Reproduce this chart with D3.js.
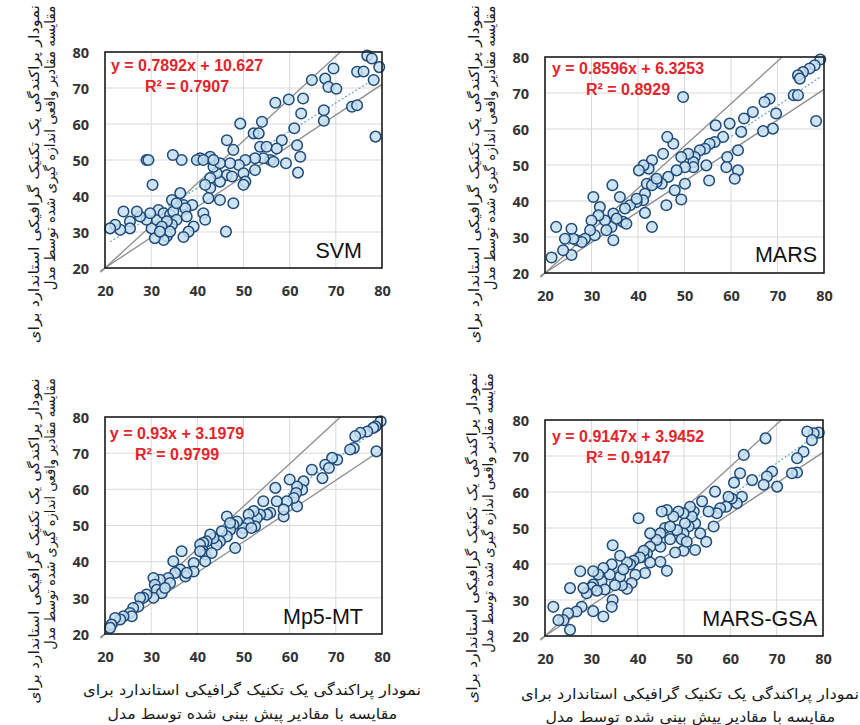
<!DOCTYPE html>
<html><head><meta charset="utf-8">
<script src="https://cdn.jsdelivr.net/npm/d3@7/dist/d3.min.js"></script>
<style>
body{margin:0;background:#fff}
#wrap{position:relative;width:860px;height:725px;overflow:hidden}
svg{display:block;position:absolute;left:0;top:0}
.fa{position:absolute;white-space:nowrap;direction:rtl;unicode-bidi:isolate;font-family:'DejaVu Sans',sans-serif;color:#1a1a1a;line-height:1;transform-origin:50% 50%}
</style>
</head><body>
<div id="wrap"><svg id="c" width="860" height="725"></svg></div>
<script>
// ---------- DATA ----------
const ticks = [20, 30, 40, 50, 60, 70, 80];
const models = ["SVM", "MARS", "Mp5-MT", "MARS-GSA"];
const slopes = [0.7892, 0.8596, 0.93, 0.9147];
const intercepts = [10.627, 6.3253, 3.1979, 3.9452];
const r2s = [0.7907, 0.8929, 0.9799, 0.9147];
const envelopeFactor = 0.85;
const yTitle = ["نمودار پراکندگی یک تکنیک گرافیکی استاندارد برای", "مقایسه مقادیر واقعی اندازه گیری شده توسط مدل"];
const xTitle = ["نمودار پراکندگی یک تکنیک گرافیکی استاندارد برای", "مقایسه با مقادیر پیش بینی شده توسط مدل"];

const svmPoints = [[76.8,79],[77.8,78.2],[79.4,75.8],[78.2,72.2],[74.6,74.5],[76,74.6],[69.5,75.4],[67.7,72.6],[68.4,70.3],[70.1,69.8],[64.8,72.2],[73.5,64.8],[74.6,65.2],[67.4,63.8],[67.4,60.9],[78.6,56.5],[62.9,67.1],[59.8,66.8],[56.9,65.9],[62.5,62.9],[61,58.8],[61.6,54.1],[62.3,50.9],[61.8,46.5],[58.3,55.5],[59.2,49.1],[54,60.6],[52.2,57.4],[53.3,57.4],[49.3,60.1],[46.4,55.5],[47.8,52.8],[53.6,53.7],[55,53.7],[57.2,53.2],[55.8,50],[56.5,49.5],[54.3,50.5],[52.5,50.5],[50.4,50],[49,48.6],[52.5,47.2],[50,46.3],[50.4,44],[50,43.1],[47.1,49.1],[46.4,45.8],[47.5,45.4],[44.9,44],[44.2,46.3],[43.5,48.1],[44.9,49.1],[42.4,50.5],[42.8,50.9],[40.6,50.5],[39.9,50],[41.3,50],[43.5,50],[42.8,45],[42.8,42.2],[41.7,43.1],[44.9,38.9],[47.8,38],[42.4,39.4],[46.2,30.1],[36.6,50],[34.7,51.4],[29,50],[29.4,50],[30.3,43.1],[36.3,40.8],[34.5,38.9],[37,37.5],[38.9,37.5],[37.4,36.6],[41.3,35.2],[41.7,33.4],[39.2,31.5],[38.1,30.1],[37,28.6],[33.4,28.8],[32.7,27.8],[30.8,28.3],[30.1,31],[31.2,33.4],[31.6,36.1],[32.7,35.2],[34.1,34.8],[34.8,35.7],[35.5,33.4],[34.5,32],[33.4,33],[32.3,31.5],[29,33.4],[29.8,35.2],[27.6,34.3],[26.9,35.7],[24,35.7],[25.4,32.9],[25.4,31],[23.3,30.6],[22.2,32],[21.1,31],[34.1,30.1],[31.9,30.1],[37.7,34.3],[35.5,38]];

const marsPoints = [[79.2,79.3],[78,77.7],[76.9,76.8],[75.5,75.8],[74.4,74.9],[74.8,74],[73.5,69.4],[74.4,69.4],[78.3,62.2],[68.3,68.4],[67.2,67.5],[69.7,64.3],[69,60.1],[66.9,59.4],[64.7,64.7],[62.8,62.9],[62.2,59.2],[61.5,54.1],[61.5,48.5],[60.8,46.2],[59.7,61.5],[59.2,52.2],[59,49.4],[58.3,57.8],[56.7,61],[56.5,56.4],[55.4,55.9],[54.4,54.5],[55.3,45.7],[54.7,49.9],[53.3,54.1],[52.2,52.2],[51.9,50.8],[51.9,49.4],[50.8,53.1],[49.7,68.9],[49.3,52.2],[50.1,49.4],[50.1,44.8],[49.3,40.4],[48.3,48.5],[47.9,43],[47.6,55.9],[46.3,57.8],[45.4,53.1],[46.5,46.7],[46.1,38.8],[45.1,44.8],[44,45.3],[43,51.3],[42.3,49],[41.2,49.9],[40.2,48.5],[41.9,44.8],[41.5,42],[41.1,40.2],[39.7,39.7],[41.5,36.7],[43,32.8],[43,44.4],[38.3,38.8],[37.2,37.9],[36.1,41.1],[34.5,44.4],[34.7,36.5],[34.3,32.8],[34.7,29.1],[32.9,34.6],[31.8,38.3],[30.4,41.1],[31.5,36],[30,34.6],[30.7,30.5],[29.7,31.9],[28.6,29.5],[26.8,29.1],[27.9,28.6],[26.1,29.5],[25.7,32.3],[24.3,29.5],[25.7,25],[23.9,26.3],[22.4,32.8],[21.4,24.3],[36.8,34.2],[33.2,31.9],[37.5,33.7],[35.4,35.1],[39.7,40.6],[44,46.2]];

const mp5Points = [[79.7,78.8],[78.6,77.4],[78.1,77],[76.8,76],[75.3,75.6],[74.2,74.7],[78.8,70.5],[73.9,71.4],[73.1,71],[70.3,68.2],[69.2,68.7],[67.7,66.8],[68.5,65.9],[67.1,63.1],[64.8,65.4],[63,62.2],[62.7,59.9],[61.6,60.8],[61.4,59],[60,62.7],[61.6,55.3],[60.9,57.6],[59.4,56.7],[58.7,52.5],[57.2,56.7],[56.9,60.4],[55.8,53.5],[54.3,56.7],[55.1,53],[53.6,53],[52.9,52.1],[52.2,54],[51.1,53],[52.5,49.8],[51.1,50.7],[50,49.3],[49.7,47.9],[48.6,51.1],[47.8,50.2],[46.4,52.5],[47.1,48.8],[46.4,47],[48.2,43.8],[45.3,48.4],[44.9,45.6],[44.2,44.7],[43.5,46.5],[42.8,47.5],[42,45.6],[41.3,45.2],[40.6,44.7],[41.3,42.9],[41.7,42],[40.6,42.9],[43.1,42.4],[41.7,40.1],[39.2,39.6],[39.2,37.3],[36.6,42.9],[36.3,37.8],[34.8,40.1],[35.2,36.9],[33.7,35.5],[34.1,34.1],[31.9,35],[30.5,35.5],[30.8,33.6],[31.2,32.2],[32.3,31.3],[30.5,30],[29,30.9],[28.3,30],[27.6,30],[27.2,27.6],[26.1,27.2],[25.4,25.8],[25.8,24.9],[24,24.9],[23.3,24],[22.2,24.4],[21.4,22.6],[21.1,21.7],[37.4,35.9],[33,32.7],[51.7,49.3],[58.7,54.4],[47.1,50.7],[37.7,36.9]];

const gsaPoints = [[79.1,76.5],[78,76.3],[76.6,76.8],[77.6,74.4],[67.6,74.9],[75.8,71.2],[74.4,69.4],[74.4,65.4],[73.3,65.2],[70.1,61.5],[69,65.7],[67.9,64.3],[67.2,62],[64.7,63.3],[62.9,70.3],[62.1,65.2],[60.8,62.6],[62.5,58.7],[61.4,56.9],[60.3,58.2],[59.6,58.7],[59.1,55.9],[57.8,55.5],[56.7,60.1],[57.1,54.1],[56.4,50.4],[54.8,46.2],[53.9,57.4],[55.3,54.6],[53.5,48.5],[52.4,51.3],[52.4,43.9],[52.1,54.6],[51.7,53.2],[51.3,55.9],[51,50.4],[49.9,48.5],[50.2,51.3],[49.9,54.1],[48.8,54.6],[48.5,49.4],[49.5,46.9],[49.9,43.7],[47.7,53.2],[47,46.9],[48.1,43.2],[46.3,55],[45.2,54.6],[45.9,50],[46.3,38.1],[44.9,48.5],[44.9,44.8],[44.9,40.6],[44.1,46.7],[42.7,48.5],[42.7,44.8],[42,42.9],[41.3,42],[40.2,52.7],[41.3,43.7],[42.7,40.4],[41.6,37.5],[40.5,41.8],[39.1,40.9],[38.4,39.9],[37.7,40.4],[36.2,42.3],[39.5,37],[38.7,34.7],[37.7,33.1],[36.6,34.1],[36.2,36.5],[34.6,45.2],[34.4,39.9],[34,37.1],[34.6,30],[34.4,28.1],[32.6,25.4],[32.6,38.9],[32.2,35.2],[32.9,32.9],[31.5,37.1],[30.4,38],[30.4,34.3],[30.1,33.5],[31.2,32.6],[29,31.9],[30.4,26.9],[28.3,33.3],[27.6,38],[27.9,28.1],[26.8,26.8],[25.4,33.3],[25,26.3],[25.4,21.7],[24,24.4],[22.9,24.4],[21.8,28.1],[35.1,34.1],[36.9,38.5],[47,50.4],[50.6,46.2]];

const allPoints = [svmPoints, marsPoints, mp5Points, gsaPoints];

// ---------- LAYOUT ----------
const layout = [
  {l:105,t:52,r:382,b:268, eqCx:187, eqY1:71, eqY2:92, nameR:362, nameB:257.5,
   yt:{x1:33,x2:50,top:5,len1:338,len2:285}, xt:null},
  {l:545,t:57,r:824,b:273, eqCx:628, eqY1:74, eqY2:95, nameR:817, nameB:261.5,
   yt:{x1:473,x2:490,top:5,len1:338,len2:285}, xt:null},
  {l:105,t:417,r:382,b:634, eqCx:177, eqY1:438.5, eqY2:460, nameR:363, nameB:624,
   yt:{x1:33,x2:50,top:378,len1:325,len2:272}, xt:{cx:252,y1:690,y2:714,len1:338,len2:290}},
  {l:545,t:420,r:823,b:636, eqCx:628, eqY1:442, eqY2:462.5, nameR:817, nameB:625.5,
   yt:{x1:471,x2:488,top:373,len1:330,len2:280}, xt:{cx:690,y1:694,y2:717,len1:338,len2:290}}
];

const svg = d3.select("#c");
const wrap = d3.select("#wrap");
const TICKFONT = "'Open Sans', 'Liberation Sans', sans-serif";

// Persian caption as HTML text (robust right-to-left shaping), centred at (cx,cy),
// stretched along its line to `len` pixels, optionally rotated.
function faText(t, cx, cy, len, size, rotate) {
  const d = wrap.append("div").attr("class", "fa").style("font-size", size + "px").text(t);
  const n = d.node();
  const w = n.offsetWidth, h = n.offsetHeight;
  d.style("left", (cx - w / 2) + "px").style("top", (cy - h / 2) + "px")
   .style("transform", `${rotate ? "rotate(-90deg) " : ""}scaleX(${len / w})`);
}

layout.forEach((L, i) => {
  const x = d3.scaleLinear().domain([20, 80]).range([L.l, L.r]);
  const y = d3.scaleLinear().domain([20, 80]).range([L.b, L.t]);
  const g = svg.append("g");

  // grid
  g.append("g").selectAll("line").data(ticks.slice(1, -1)).join("line")
    .attr("x1", d => x(d)).attr("x2", d => x(d)).attr("y1", L.t).attr("y2", L.b)
    .attr("stroke", "#d9d9d9").attr("stroke-width", 1);
  g.append("g").selectAll("line").data(ticks.slice(1, -1)).join("line")
    .attr("y1", d => y(d)).attr("y2", d => y(d)).attr("x1", L.l).attr("x2", L.r)
    .attr("stroke", "#d9d9d9").attr("stroke-width", 1);

  // axes (labels only)
  const xa = g.append("g").attr("transform", `translate(0,${L.b})`)
    .call(d3.axisBottom(x).tickValues(ticks).tickSize(0).tickPadding(0));
  xa.select(".domain").remove();
  xa.selectAll("text").attr("dy", null).attr("y", 28)
    .style("font-family", TICKFONT).style("font-weight", "700").style("font-size", "14.5px").attr("fill", "#333");
  const ya = g.append("g").attr("transform", `translate(${L.l},0)`)
    .call(d3.axisLeft(y).tickValues(ticks).tickSize(0).tickPadding(0));
  ya.select(".domain").remove();
  ya.selectAll("text").attr("x", -16).attr("dy", "0.36em")
    .style("font-family", TICKFONT).style("font-weight", "700").style("font-size", "14.5px").attr("fill", "#333");

  // envelope lines
  const line = d3.line().x(d => x(d[0])).y(d => y(d[1]));
  const lo = [[19, 20 + envelopeFactor * (19 - 20)], [80, 20 + envelopeFactor * 60]];
  const up = [[19, 20 + (19 - 20) / envelopeFactor], [20 + 60 * envelopeFactor, 80]];
  [lo, up].forEach(seg => g.append("path").attr("d", line(seg))
    .attr("stroke", "#8c8c8c").attr("stroke-width", 1.3).attr("fill", "none"));

  // trend line
  const pts = allPoints[i];
  const xs = d3.extent(pts, d => d[0]);
  g.append("path").attr("d", line(xs.map(v => [v, slopes[i] * v + intercepts[i]])))
    .attr("stroke", "#6fa8dc").attr("stroke-width", 1.3).attr("stroke-dasharray", "2,2").attr("fill", "none");

  // points
  g.append("g").selectAll("circle").data(pts).join("circle")
    .attr("cx", d => x(d[0])).attr("cy", d => y(d[1])).attr("r", 5.3)
    .attr("fill", "#c6dff1").attr("fill-opacity", 0.85)
    .attr("stroke", "#1f4a78").attr("stroke-width", 1.5);

  // border
  g.append("rect").attr("x", L.l).attr("y", L.t).attr("width", L.r - L.l).attr("height", L.b - L.t)
    .attr("fill", "none").attr("stroke", "#1a1a1a").attr("stroke-width", 1.6);

  // equation
  g.append("text").attr("x", L.eqCx).attr("y", L.eqY1).attr("text-anchor", "middle")
    .style("font-family", "'Liberation Sans', Arial, sans-serif").style("font-weight", "700").style("font-size", "16px")
    .attr("fill", "#e3242b").text(`y = ${slopes[i]}x + ${intercepts[i]}`);
  g.append("text").attr("x", L.eqCx).attr("y", L.eqY2).attr("text-anchor", "middle")
    .style("font-family", "'Liberation Sans', Arial, sans-serif").style("font-weight", "700").style("font-size", "16px")
    .attr("fill", "#e3242b").text(`R² = ${r2s[i]}`);

  // model name
  g.append("text").attr("x", L.nameR).attr("y", L.nameB).attr("text-anchor", "end")
    .style("font-family", "'Liberation Sans', Arial, sans-serif").style("font-size", "21.5px")
    .attr("fill", "#111").text(models[i]);

  // y titles (rotated; first word at the top)
  faText(yTitle[0], L.yt.x1, L.yt.top + L.yt.len1 / 2, L.yt.len1, 14, true);
  faText(yTitle[1], L.yt.x2, L.yt.top + L.yt.len2 / 2, L.yt.len2, 14, true);

  // x titles
  if (L.xt) {
    faText(xTitle[0], L.xt.cx, L.xt.y1, L.xt.len1, 15, false);
    faText(xTitle[1], L.xt.cx, L.xt.y2, L.xt.len2, 15, false);
  }
});
</script>
</body></html>
